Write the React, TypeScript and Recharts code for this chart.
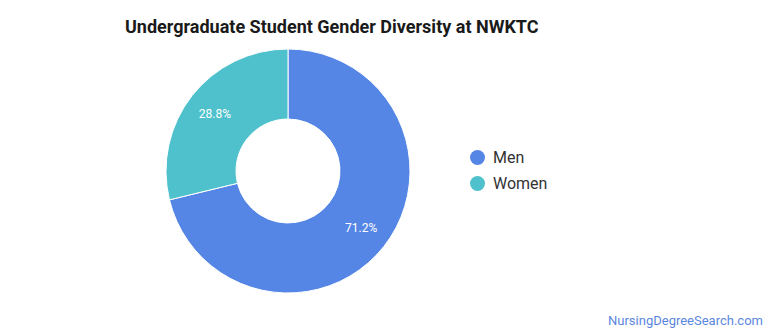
import { PieChart, Pie, Cell, Legend } from 'recharts';

const categories = ['Men', 'Women'];
const shares = [71.2, 28.8];
const colors = ['#5586e5', '#4fc1cc'];

const data = categories.map((name, i) => ({ name, value: shares[i] }));

const RADIAN = Math.PI / 180;

function renderLabel(props: any) {
  const { cx, cy, midAngle, value } = props;
  const r = 93;
  const x = cx + r * Math.cos(-midAngle * RADIAN);
  const y = cy + r * Math.sin(-midAngle * RADIAN);
  return (
    <text x={x} y={y} fill="#ffffff" fontSize={12} textAnchor="middle" dominantBaseline="central" fontFamily="Roboto">
      {value.toFixed(1)}%
    </text>
  );
}

function renderLegend() {
  return (
    <div style={{ fontFamily: 'Roboto', fontSize: 16, color: '#333' }}>
      {categories.map((c, i) => (
        <div key={c} style={{ display: 'flex', alignItems: 'center', height: 26 }}>
          <span style={{ width: 15, height: 15, borderRadius: '50%', background: colors[i], display: 'inline-block', marginRight: 8 }} />
          {c}
        </div>
      ))}
    </div>
  );
}

export default function App() {
  return (
    <div style={{ position: 'absolute', left: 0, top: 0, width: 770, height: 335, background: '#fff', fontFamily: 'Roboto' }}>
      <div style={{ position: 'absolute', left: 125, top: 16, fontSize: 18, fontWeight: 700, color: '#1a1a1a' }}>
        Undergraduate Student Gender Diversity at NWKTC
      </div>
      <PieChart width={770} height={335} margin={{ top: 0, right: 0, bottom: 0, left: 0 }}>
        <Pie
          data={data}
          dataKey="value"
          nameKey="name"
          cx={288}
          cy={171}
          innerRadius={52}
          outerRadius={122}
          startAngle={90}
          endAngle={-270}
          stroke="#ffffff"
          strokeWidth={1}
          label={renderLabel}
          labelLine={false}
          isAnimationActive={false}
        >
          {data.map((d, i) => (
            <Cell key={d.name} fill={colors[i]} />
          ))}
        </Pie>
        <Legend
          content={renderLegend}
          layout="vertical"
          wrapperStyle={{ position: 'absolute', left: 470, top: 144, width: 120 }}
        />
      </PieChart>
      <div style={{ position: 'absolute', right: 7, top: 313, fontSize: 13, color: '#5b87e0' }}>
        NursingDegreeSearch.com
      </div>
    </div>
  );
}
